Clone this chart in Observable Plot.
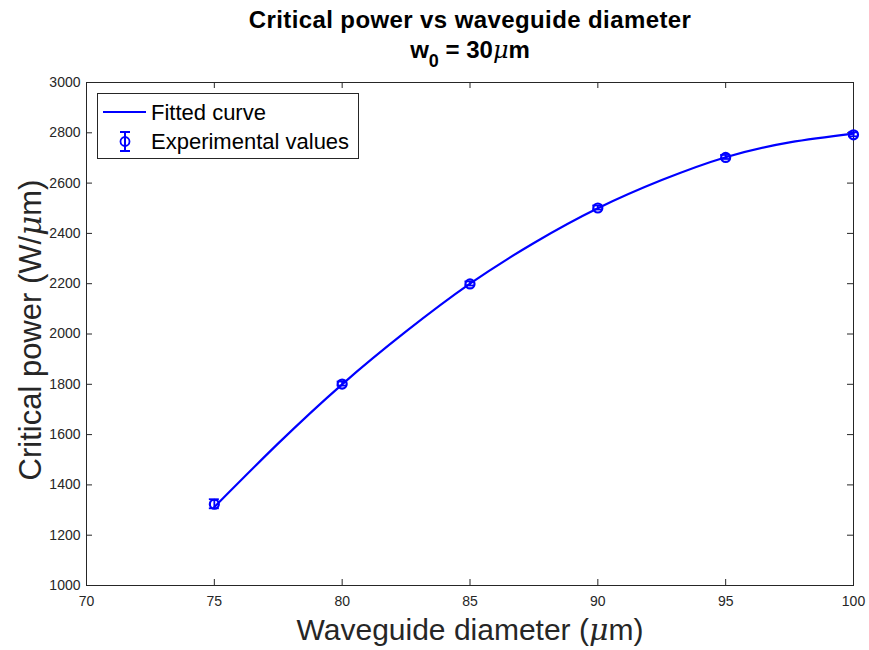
<!DOCTYPE html>
<html>
<head>
<meta charset="utf-8">
<script src="https://cdn.jsdelivr.net/npm/d3@7"></script>
<script src="https://cdn.jsdelivr.net/npm/@observablehq/plot@0.6"></script>
<style>
  body { margin: 0; background: #fff; font-family: "Liberation Sans", Arial, sans-serif; }
  #wrap { position: relative; width: 869px; height: 650px; }
  .abs { position: absolute; white-space: nowrap; color: #000; }
</style>
</head>
<body>
<div id="wrap">
  <div id="chart"></div>
  <div class="abs" style="left:0;width:940px;top:6px;text-align:center;font-weight:bold;font-size:24px;letter-spacing:0.4px;">Critical power vs waveguide diameter</div>
  <div class="abs" style="left:0;width:940px;top:36px;text-align:center;font-weight:bold;font-size:24px;">w<sub style="font-size:18px;position:relative;top:3px;">0</sub> = 30<i style="font-family:'DejaVu Serif',serif;font-weight:normal;">&#956;</i>m</div>
  <div class="abs" style="left:0;width:940px;top:612px;text-align:center;font-size:30px;color:#262626;">Waveguide diameter (<i style="font-family:'DejaVu Serif',serif;">&#956;</i>m)</div>
  <div class="abs" style="left:30px;top:330px;transform:translate(-50%,-50%) rotate(-90deg);font-size:31px;color:#262626;">Critical power (W/<i style="font-family:'DejaVu Serif',serif;">&#956;</i>m)</div>
  <svg class="abs" style="left:97px;top:93px;" width="262" height="66">
    <rect x="0.5" y="0.5" width="261" height="65" fill="#fff" stroke="#262626" stroke-width="1"/>
    <line x1="6" x2="49" y1="19" y2="19" stroke="#0000ff" stroke-width="2"/>
    <text x="54" y="27" font-size="22" fill="#000" font-family="Liberation Sans, Arial, sans-serif">Fitted curve</text>
    <line x1="28" x2="28" y1="39" y2="58" stroke="#0000ff" stroke-width="2"/>
    <line x1="23" x2="33" y1="39" y2="39" stroke="#0000ff" stroke-width="2"/>
    <line x1="23" x2="33" y1="58" y2="58" stroke="#0000ff" stroke-width="2"/>
    <circle cx="28" cy="48.5" r="4.5" fill="none" stroke="#0000ff" stroke-width="1.8"/>
    <text x="54" y="56" font-size="22" fill="#000" font-family="Liberation Sans, Arial, sans-serif">Experimental values</text>
  </svg>
</div>
<script>
// Experimental data
const diameters = [75, 80, 85, 90, 95, 100];
const powers = [1323, 1801, 2199, 2501, 2702, 2792];
const errors = [18, 8, 8, 8, 8, 8];
// Fitted curve
const fitDiameters = [75, 77.5, 80, 82.5, 85, 87.5, 90, 92.5, 95, 97.5, 100];
const fitPowers = [1312, 1565, 1800, 2010, 2200, 2362, 2500, 2612, 2703, 2762, 2797];
// Ticks
const xTicks = [70, 75, 80, 85, 90, 95, 100];
const yTicks = [1000, 1200, 1400, 1600, 1800, 2000, 2200, 2400, 2600, 2800, 3000];

const expData = diameters.map((d, i) => ({x: d, y: powers[i], e: errors[i]}));
const fitData = fitDiameters.map((d, i) => ({x: d, y: fitPowers[i]}));

const W = 869, H = 650;
const mL = 86, mR = 16, mT = 82, mB = 65;
const tickPx = 6;
const xPerPx = 30 / (W - mL - mR);
const yPerPx = 2000 / (H - mT - mB);
const axisColor = "#262626";
const blue = "#0000ff";

const plot = Plot.plot({
  width: W,
  height: H,
  marginLeft: mL,
  marginRight: mR,
  marginTop: mT,
  marginBottom: mB,
  style: {fontFamily: "Liberation Sans, Arial, sans-serif", fontSize: "14px", color: axisColor, background: "#fff"},
  x: {type: "linear", domain: [70, 100]},
  y: {type: "linear", domain: [1000, 3000]},
  marks: [
    Plot.axisX({ticks: xTicks, tickSize: 0, tickPadding: 11, tickFormat: d3.format("d"), label: null, fontSize: 14, fill: axisColor}),
    Plot.axisY({ticks: yTicks, tickSize: 0, tickPadding: 6, tickFormat: d3.format("d"), label: null, fontSize: 14, fill: axisColor}),
    // inward ticks on all four sides
    Plot.ruleX(xTicks, {x: d => d, y1: 1000, y2: 1000 + tickPx * yPerPx, stroke: axisColor}),
    Plot.ruleX(xTicks, {x: d => d, y1: 3000, y2: 3000 - tickPx * yPerPx, stroke: axisColor}),
    Plot.ruleY(yTicks, {y: d => d, x1: 70, x2: 70 + tickPx * xPerPx, stroke: axisColor}),
    Plot.ruleY(yTicks, {y: d => d, x1: 100, x2: 100 - tickPx * xPerPx, stroke: axisColor}),
    Plot.frame({stroke: axisColor, strokeWidth: 1}),
    Plot.line(fitData, {x: "x", y: "y", stroke: blue, strokeWidth: 2.2, curve: "natural"}),
    Plot.ruleX(expData, {x: "x", y1: d => d.y - d.e, y2: d => d.y + d.e, stroke: blue, strokeWidth: 1.8}),
    Plot.dot(expData, {x: "x", y: "y", r: 4.5, stroke: blue, strokeWidth: 2.2, fill: "none"})
  ]
});
document.getElementById("chart").appendChild(plot);

// error bar caps drawn through the plot's own scales
const sx = plot.scale("x"), sy = plot.scale("y");
const svg = d3.select(plot);
const capG = svg.append("g").attr("stroke", blue).attr("stroke-width", 1.8);
expData.forEach(d => {
  [d.y - d.e, d.y + d.e].forEach(v => {
    capG.append("line")
      .attr("x1", sx.apply(d.x) - 5).attr("x2", sx.apply(d.x) + 5)
      .attr("y1", sy.apply(v)).attr("y2", sy.apply(v));
  });
});
</script>
</body>
</html>
